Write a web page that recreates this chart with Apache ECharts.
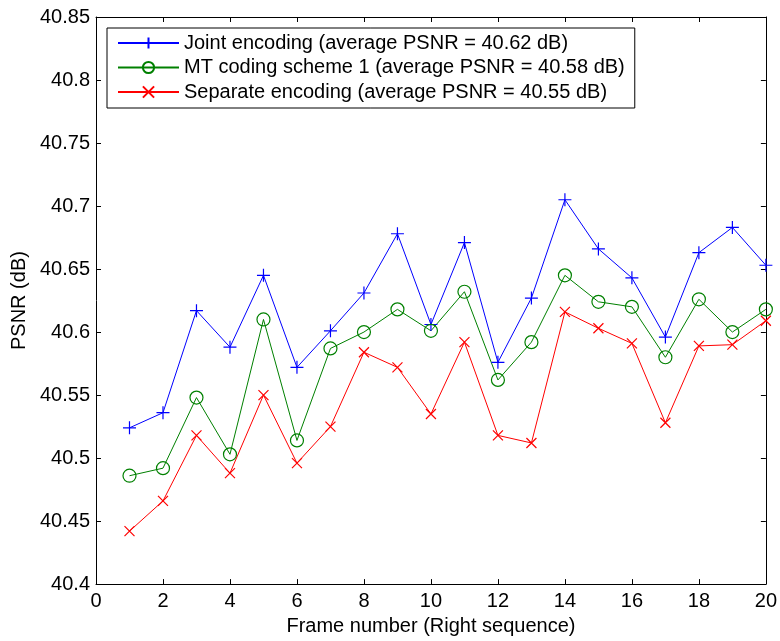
<!DOCTYPE html>
<html>
<head>
<meta charset="utf-8">
<script src="https://cdn.jsdelivr.net/npm/echarts@6/dist/echarts.min.js"></script>
<style>html,body{margin:0;padding:0;background:#fff;}#c{width:780px;height:641px;}</style>
</head>
<body>
<div id="c"></div>
<script>
const frames = [1,2,3,4,5,6,7,8,9,10,11,12,13,14,15,16,17,18,19,20];
const jointEncoding = [40.524,40.536,40.617,40.588,40.645,40.572,40.601,40.631,40.678,40.606,40.671,40.576,40.627,40.705,40.666,40.643,40.596,40.663,40.683,40.653];
const mtCoding = [40.486,40.492,40.548,40.503,40.610,40.514,40.587,40.600,40.618,40.601,40.632,40.562,40.592,40.645,40.624,40.620,40.580,40.626,40.600,40.618];
const separateEncoding = [40.442,40.466,40.518,40.488,40.550,40.496,40.525,40.584,40.572,40.535,40.592,40.518,40.512,40.616,40.603,40.591,40.528,40.589,40.590,40.609];
const seriesNames = ['Joint encoding (average PSNR = 40.62 dB)','MT coding scheme 1 (average PSNR = 40.58 dB)','Separate encoding (average PSNR = 40.55 dB)'];
const xTicks = [0,2,4,6,8,10,12,14,16,18,20];
const yTicks = [40.4,40.45,40.5,40.55,40.6,40.65,40.7,40.75,40.8,40.85];

const FONT = 'Liberation Sans';
const pairs = arr => frames.map((f,i)=>[f,arr[i]]);
const plusPath = 'path://M0,5L10,5M5,0L5,10';
const crossPath = 'path://M0,0L10,10M0,10L10,0';

const chart = echarts.init(document.getElementById('c'), null, {renderer:'canvas'});
const tickStyle = {show:true, inside:true, length:5, lineStyle:{color:'#000', width:1}};
const labelStyle = {color:'#000', fontSize:20, fontFamily:FONT};
chart.setOption({
  animation:false,
  backgroundColor:'#fff',
  grid:{left:96, right:13, top:17, bottom:54, containLabel:false},
  legend:{
    show:true, orient:'vertical', left:107, top:28,
    backgroundColor:'#fff', borderColor:'#000', borderWidth:1, borderRadius:0,
    padding:[5,10,6,10], itemGap:4.5, itemWidth:61, itemHeight:14,
    textStyle:{color:'#000', fontSize:20, fontFamily:FONT},
    data: seriesNames
  },
  xAxis:[{
    type:'value', min:0, max:20, interval:2, position:'bottom',
    name:'Frame number (Right sequence)', nameLocation:'middle', nameGap:31,
    nameTextStyle:{color:'#000', fontSize:20, fontFamily:FONT},
    axisLine:{show:true, onZero:false, lineStyle:{color:'#000', width:1}},
    axisTick:tickStyle, axisLabel:Object.assign({margin:7, formatter:v=>String(v)}, labelStyle),
    splitLine:{show:false}
  },{
    type:'value', min:0, max:20, interval:2, position:'top',
    axisLine:{show:true, onZero:false, lineStyle:{color:'#000', width:1}},
    axisTick:tickStyle, axisLabel:{show:false}, splitLine:{show:false}
  }],
  yAxis:[{
    type:'value', min:40.4, max:40.85, interval:0.05, position:'left',
    name:'PSNR (dB)', nameLocation:'middle', nameGap:66, nameRotate:90,
    nameTextStyle:{color:'#000', fontSize:20, fontFamily:FONT},
    axisLine:{show:true, onZero:false, lineStyle:{color:'#000', width:1}},
    axisTick:tickStyle,
    axisLabel:Object.assign({margin:6, formatter:v=>String(parseFloat(v.toFixed(2)))}, labelStyle),
    splitLine:{show:false}
  },{
    type:'value', min:40.4, max:40.85, interval:0.05, position:'right',
    axisLine:{show:true, onZero:false, lineStyle:{color:'#000', width:1}},
    axisTick:tickStyle, axisLabel:{show:false}, splitLine:{show:false}
  }],
  series:[{
    name:seriesNames[0], type:'line', data:pairs(jointEncoding),
    symbol:plusPath, symbolSize:13, showAllSymbol:true,
    lineStyle:{color:'#0000ff', width:1},
    itemStyle:{color:'rgba(0,0,0,0)', borderColor:'#0000ff', borderWidth:1.2}
  },{
    name:seriesNames[1], type:'line', data:pairs(mtCoding),
    symbol:'circle', symbolSize:13, showAllSymbol:true,
    lineStyle:{color:'#008000', width:1},
    itemStyle:{color:'rgba(0,0,0,0)', borderColor:'#008000', borderWidth:1.2}
  },{
    name:seriesNames[2], type:'line', data:pairs(separateEncoding),
    symbol:crossPath, symbolSize:10, showAllSymbol:true,
    lineStyle:{color:'#ff0000', width:1},
    itemStyle:{color:'rgba(0,0,0,0)', borderColor:'#ff0000', borderWidth:1.2}
  }]
});
</script>
</body>
</html>
